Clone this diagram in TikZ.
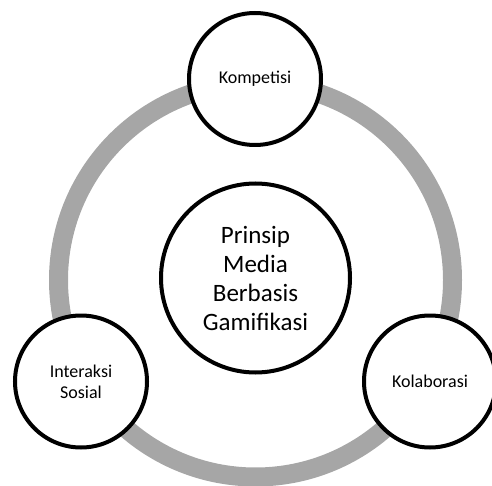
\documentclass[tikz,border=0pt]{standalone}
\usepackage{fontspec}
\setmainfont{Carlito}
\definecolor{ringgray}{HTML}{A6A6A6}
\begin{document}
\begin{tikzpicture}[x=1pt,y=-1pt,
  ringline/.style={draw=ringgray, line width=19pt},
  bub/.style={circle, draw=black, line width=4pt, fill=white, minimum size=132pt, inner sep=0pt, align=center, font=\fontsize{18}{21}\selectfont},
  hub/.style={circle, draw=black, line width=4pt, fill=white, minimum size=189pt, inner sep=0pt, align=center, font=\fontsize{25}{29}\selectfont}]
\clip (0,0) rectangle (492,486);
\useasboundingbox (0,0) rectangle (492,486);
\coordinate (rc) at (255.5,280);
\draw[ringline] (rc) circle (197pt);
\node[hub] (hubnode) at (255.5,278) {Prinsip\\Media\\Berbasis\\Gamifikasi};
\node[bub] (komp) at (255,79) {Kompetisi};
\node[bub] (inter) at (81,381.5) {Interaksi\\Sosial};
\node[bub] (kolab) at (430,381.5) {Kolaborasi};
\end{tikzpicture}
\end{document}
